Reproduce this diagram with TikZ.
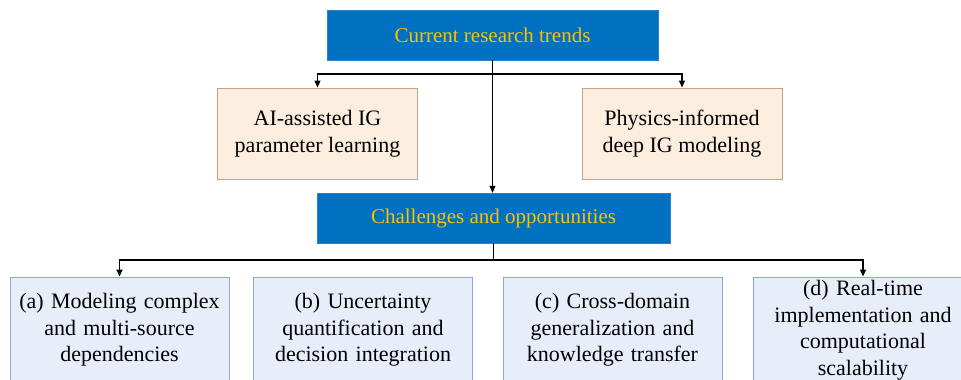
\documentclass[tikz,border=0pt]{standalone}
\usepackage{fontspec}
\setmainfont{Liberation Serif}
\usetikzlibrary{arrows.meta}
\definecolor{trendblue}{HTML}{0070C0}
\definecolor{trendgold}{HTML}{FFC000}
\definecolor{tanfill}{HTML}{FBEEDF}
\definecolor{tanline}{HTML}{C9A37F}
\definecolor{chalfill}{HTML}{E8EEF9}
\definecolor{challine}{HTML}{8EA9DB}
\tikzset{
  headbox/.style={draw=trendblue!85!white,fill=trendblue,text=trendgold,minimum height=50pt,inner sep=0pt,font=\fontsize{21}{25}\selectfont},
  trendbox/.style={draw=tanline,fill=tanfill,line width=0.9pt,minimum width=200pt,minimum height=91pt,align=center,inner sep=0pt,font=\fontsize{22}{26.5}\selectfont},
  chalbox/.style={draw=challine,fill=chalfill,line width=0.9pt,minimum width=219pt,minimum height=106pt,text width=215pt,align=center,inner sep=0pt,font=\fontsize{22}{26.5}\selectfont},
}
\begin{document}
\begin{tikzpicture}[x=1pt,y=-1pt,>={Triangle[length=7pt,width=6pt]}]
			\useasboundingbox (0,0) rectangle (961,380);
			\clip (0,0) rectangle (961,380);
			% heads
			\node[headbox,minimum width=331pt] (trends) at (492.5,35) {Current research trends};
			\node[headbox,minimum width=353pt] (chal) at (493.5,218) {Challenges and opportunities};
			% trends
			\node[trendbox] (ai) at (317.5,133.5) {AI-assisted IG\\parameter learning};
			\node[trendbox] (phys) at (682,133.5) {Physics-informed\\deep IG modeling};
			% challenges
			\node[chalbox] (ca) at (119.5,330) {(a) Modeling complex\\and multi-source\\dependencies};
			\node[chalbox] (cb) at (363,330) {(b) Uncertainty\\quantification and\\decision integration};
			\node[chalbox] (cc) at (612.5,330) {(c) Cross-domain\\generalization and\\knowledge transfer};
			\node[chalbox] (cd) at (863,330) {(d) Real-time\\implementation and\\computational\\scalability};
			
			\coordinate (split1) at (492.5,74);
			\coordinate (split2) at (493.5,260);
			\draw[->,line width=1.1pt] (trends.south) -- (trends.south |- chal.north);
			\draw[->,line width=1.1pt] (split1) -| (ai.north);
			\draw[->,line width=1.1pt] (split1) -| (phys.north);
			\draw[line width=1.6pt] (chal.south) -- (split2);
			\draw[->,line width=1.6pt] (split2) -| (ca.north);
			\draw[->,line width=1.6pt] (split2) -| (cd.north);
		\end{tikzpicture}
\end{document}
